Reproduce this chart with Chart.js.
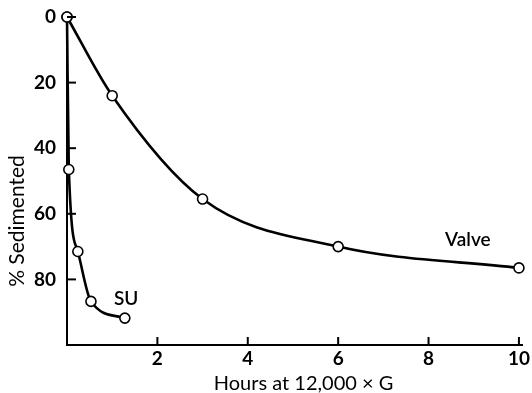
<!DOCTYPE html>
<html>
<head>
<meta charset="utf-8">
<script src="https://cdn.jsdelivr.net/npm/chart.js@4/dist/chart.umd.min.js"></script>
<style>
  html, body { margin: 0; padding: 0; background: #fff; }
  #wrap { width: 532px; height: 393px; }
</style>
</head>
<body>
<div id="wrap"><canvas id="chart"></canvas></div>
<script>
// values
const valveHours = [0, 1, 3, 6, 10];
const valveSed = [0, 24, 55.5, 70, 76.5];
const suHours = [0, 0.04, 0.24, 0.53, 1.28];
const suSed = [0, 46.5, 71.5, 86.7, 91.8];
const xTicks = [2, 4, 6, 8, 10];
const yTicks = [0, 20, 40, 60, 80];
const curveLabels = [
  { text: 'SU', x: 1.31, y: 85.8 },
  { text: 'Valve', x: 8.87, y: 68 }
];
const xTitle = 'Hours at 12,000 × G';
const yTitle = '% Sedimented';

const FONT = 'Lato, "Open Sans", sans-serif';

const toPoints = (xs, ys) => xs.map((x, i) => ({ x: x, y: ys[i] }));

// inward tick marks, axis titles and the curve names
const decorations = {
  id: 'decorations',
  afterDatasetsDraw(chart) {
    const ctx = chart.ctx;
    const xs = chart.scales.x;
    const ys = chart.scales.y;
    const area = chart.chartArea;
    ctx.save();
    ctx.strokeStyle = '#000';
    ctx.lineWidth = 2;
    yTicks.forEach((v) => {
      const py = ys.getPixelForValue(v);
      ctx.beginPath();
      ctx.moveTo(area.left, py);
      ctx.lineTo(area.left + 9, py);
      ctx.stroke();
    });
    xTicks.forEach((v) => {
      const px = xs.getPixelForValue(v);
      ctx.beginPath();
      ctx.moveTo(px, area.bottom);
      ctx.lineTo(px, area.bottom - 8);
      ctx.stroke();
    });

    ctx.fillStyle = '#000';
    ctx.textAlign = 'center';
    ctx.textBaseline = 'middle';
    ctx.font = '600 19px ' + FONT;
    curveLabels.forEach((l) => {
      ctx.fillText(l.text, xs.getPixelForValue(l.x), ys.getPixelForValue(l.y));
    });

    ctx.font = '20px ' + FONT;
    ctx.fillText(xTitle, (area.left + area.right) / 2 + 9, area.bottom + 39);
    ctx.translate(17, (area.top + area.bottom) / 2 + 40);
    ctx.rotate(-Math.PI / 2);
    ctx.font = '21px ' + FONT;
    ctx.fillText(yTitle, 0, 0);
    ctx.restore();
  }
};

const seriesStyle = {
  borderColor: '#000',
  borderWidth: 2.6,
  pointRadius: 5,
  pointBackgroundColor: '#fff',
  pointBorderColor: '#000',
  pointBorderWidth: 1.6,
  cubicInterpolationMode: 'monotone',
  fill: false,
  clip: false
};

new Chart(document.getElementById('chart'), {
  type: 'line',
  data: {
    datasets: [
      Object.assign({ label: 'Valve', data: toPoints(valveHours, valveSed) }, seriesStyle),
      Object.assign({ label: 'SU', data: toPoints(suHours, suSed) }, seriesStyle)
    ]
  },
  options: {
    responsive: true,
    maintainAspectRatio: false,
    animation: false,
    layout: { padding: { top: 17, right: 8, left: 0, bottom: 0 } },
    plugins: {
      legend: { display: false },
      tooltip: { enabled: false }
    },
    scales: {
      x: {
        type: 'linear',
        min: 0,
        max: 10.07,
        afterBuildTicks: (scale) => { scale.ticks = xTicks.map((v) => ({ value: v })); },
        afterFit: (scale) => { scale.height = 48; },
        grid: { display: false, drawTicks: false },
        border: { display: true, color: '#000', width: 2 },
        ticks: {
          color: '#000',
          padding: 2,
          maxRotation: 0,
          font: { family: FONT, size: 19, weight: 'bold' }
        }
      },
      y: {
        type: 'linear',
        reverse: true,
        min: 0,
        max: 100,
        afterBuildTicks: (scale) => { scale.ticks = yTicks.map((v) => ({ value: v })); },
        afterFit: (scale) => {
          scale.width = 67;
          scale.paddingTop = 0;
          scale.paddingBottom = 0;
        },
        grid: { display: false, drawTicks: false },
        border: { display: true, color: '#000', width: 2 },
        ticks: {
          color: '#000',
          padding: 11,
          font: { family: FONT, size: 19, weight: 'bold' }
        }
      }
    }
  },
  plugins: [decorations]
});
</script>
</body>
</html>
